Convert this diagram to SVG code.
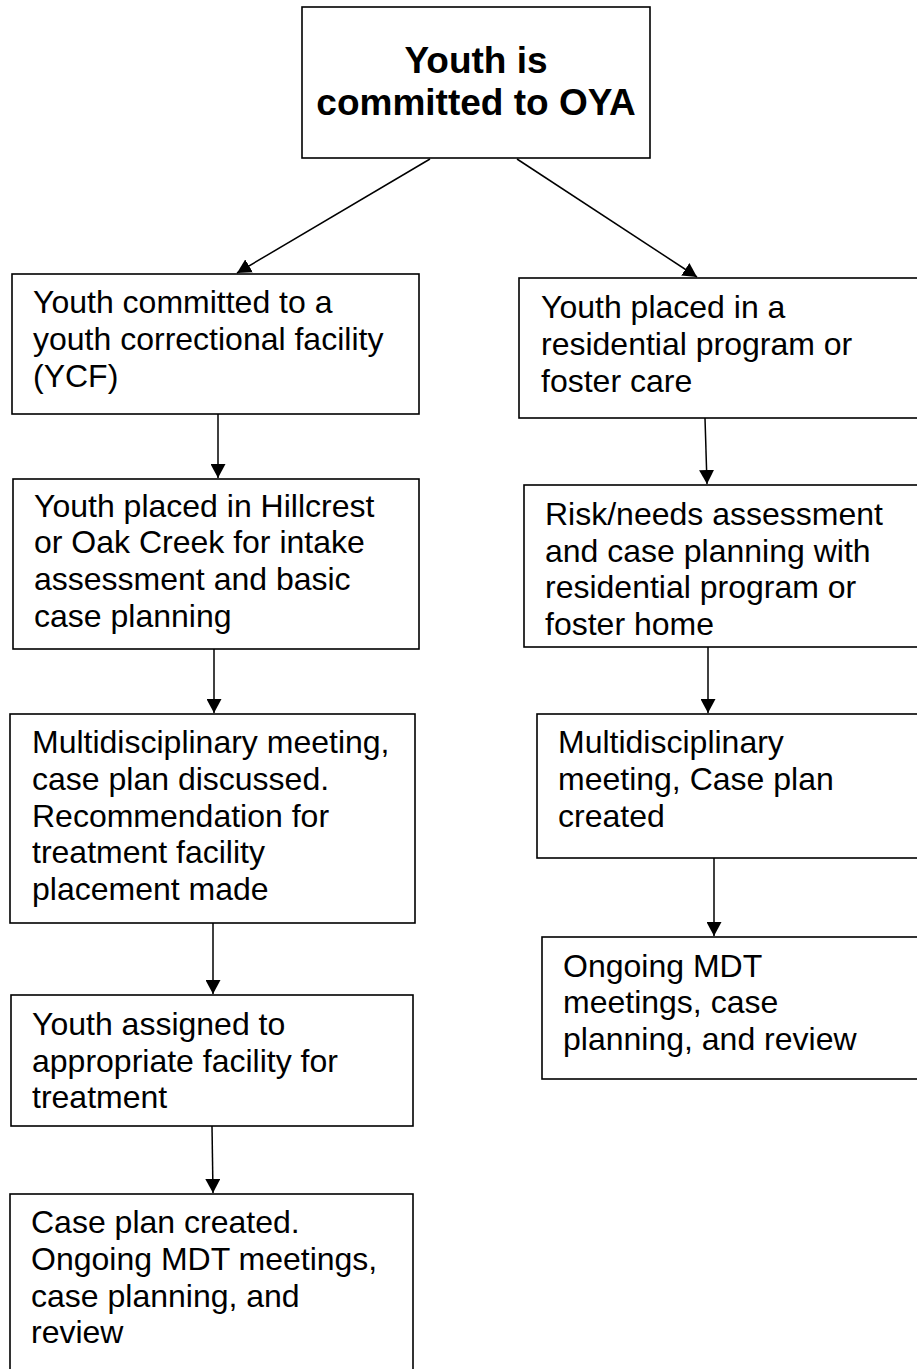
<svg xmlns="http://www.w3.org/2000/svg" width="917" height="1369" viewBox="0 0 917 1369">
<style>
.box{fill:#fff;stroke:#000;stroke-width:1.6}
.t{font-family:"Liberation Sans",Arial,sans-serif;font-size:32px;fill:#000}
.tb{font-family:"Liberation Sans",Arial,sans-serif;font-size:37px;font-weight:bold;fill:#000;text-anchor:middle}
.c{stroke:#000;stroke-width:1.5;fill:none;marker-end:url(#ah)}
</style>
<defs>
<marker id="ah" markerUnits="userSpaceOnUse" viewBox="0 0 14 15" refX="14" refY="7.5" markerWidth="14" markerHeight="15" orient="auto">
<path d="M0,0 L14,7.5 L0,15 z" fill="#000"/>
</marker>
</defs>
<rect width="917" height="1369" fill="#fff"/>
<g id="connectors">
<line class="c" x1="430" y1="159" x2="237" y2="273"/>
<line class="c" x1="517" y1="159" x2="697" y2="277"/>
<line class="c" x1="218" y1="414" x2="218" y2="478"/>
<line class="c" x1="214" y1="649" x2="214" y2="713"/>
<line class="c" x1="213" y1="923" x2="213" y2="994"/>
<line class="c" x1="212" y1="1126" x2="213" y2="1193"/>
<line class="c" x1="705" y1="418" x2="707" y2="484"/>
<line class="c" x1="708" y1="647" x2="708" y2="713"/>
<line class="c" x1="714" y1="858" x2="714" y2="936"/>
</g>
<g id="n0">
<rect class="box" x="302" y="7" width="348" height="151"/>
<text class="tb" x="476"><tspan x="476" y="73">Youth is</tspan><tspan x="476" y="115">committed to OYA</tspan></text>
</g>
<g id="l1">
<rect class="box" x="12" y="274" width="407" height="140"/>
<text class="t"><tspan x="33" y="313">Youth committed to a</tspan><tspan x="33" y="350">youth correctional facility</tspan><tspan x="33" y="387">(YCF)</tspan></text>
</g>
<g id="l2">
<rect class="box" x="13" y="479" width="406" height="170"/>
<text class="t"><tspan x="34" y="517">Youth placed in Hillcrest</tspan><tspan x="34" y="553">or Oak Creek for intake</tspan><tspan x="34" y="590">assessment and basic</tspan><tspan x="34" y="627">case planning</tspan></text>
</g>
<g id="l3">
<rect class="box" x="10" y="714" width="405" height="209"/>
<text class="t"><tspan x="32" y="753">Multidisciplinary meeting,</tspan><tspan x="32" y="790">case plan discussed.</tspan><tspan x="32" y="827">Recommendation for</tspan><tspan x="32" y="863">treatment facility</tspan><tspan x="32" y="900">placement made</tspan></text>
</g>
<g id="l4">
<rect class="box" x="11" y="995" width="402" height="131"/>
<text class="t"><tspan x="32" y="1035">Youth assigned to</tspan><tspan x="32" y="1072">appropriate facility for</tspan><tspan x="32" y="1108">treatment</tspan></text>
</g>
<g id="l5">
<rect class="box" x="10" y="1194" width="403" height="190"/>
<text class="t"><tspan x="31" y="1233">Case plan created.</tspan><tspan x="31" y="1270">Ongoing MDT meetings,</tspan><tspan x="31" y="1307">case planning, and</tspan><tspan x="31" y="1343">review</tspan></text>
</g>
<g id="r1">
<rect class="box" x="519" y="278" width="420" height="140"/>
<text class="t"><tspan x="541" y="318">Youth placed in a</tspan><tspan x="541" y="355">residential program or</tspan><tspan x="541" y="392">foster care</tspan></text>
</g>
<g id="r2">
<rect class="box" x="524" y="485" width="420" height="162"/>
<text class="t"><tspan x="545" y="525">Risk/needs assessment</tspan><tspan x="545" y="562">and case planning with</tspan><tspan x="545" y="598">residential program or</tspan><tspan x="545" y="635">foster home</tspan></text>
</g>
<g id="r3">
<rect class="box" x="537" y="714" width="420" height="144"/>
<text class="t"><tspan x="558" y="753">Multidisciplinary</tspan><tspan x="558" y="790">meeting, Case plan</tspan><tspan x="558" y="827">created</tspan></text>
</g>
<g id="r4">
<rect class="box" x="542" y="937" width="420" height="142"/>
<text class="t"><tspan x="563" y="977">Ongoing MDT</tspan><tspan x="563" y="1013">meetings, case</tspan><tspan x="563" y="1050">planning, and review</tspan></text>
</g>
</svg>
